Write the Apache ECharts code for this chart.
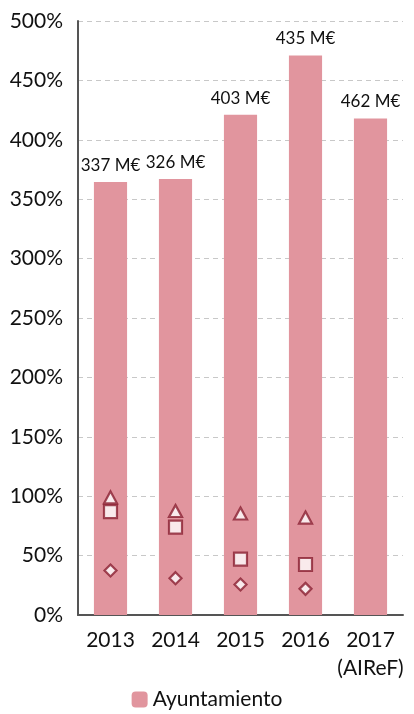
<!DOCTYPE html>
<html><head><meta charset="utf-8">
<script src="https://cdn.jsdelivr.net/npm/echarts@6/dist/echarts.min.js"></script>
<style>html,body{margin:0;padding:0;background:#fff}#c{width:414px;height:714px}</style>
</head><body><div id="c"></div>
<script>
const categories = ['2013', '2014', '2015', '2016', '2017\n(AIReF)'];
const ayuntamiento = [364.5, 367, 421, 471, 418];
const barLabels = ['337 M€', '326 M€', '403 M€', '435 M€', '462 M€'];
const triangles = [99, 87.5, 85.4, 82, null];
const squares = [87, 74, 47, 42.5, null];
const diamonds = [37.5, 31, 25.7, 22, null];
const yTicks = [0, 500, 50];

const font = 'Lato, "Open Sans", sans-serif';
const markerStyle = { color: '#fff', borderColor: '#8a1f31', borderWidth: 2.2 };
const chart = echarts.init(document.getElementById('c'));
chart.setOption({
  animation: false,
  textStyle: { fontFamily: font },
  grid: { left: 78, right: 11, top: 21, bottom: 99 },
  legend: {
    data: ['Ayuntamiento'], top: 689, left: 'center', padding: 0,
    itemWidth: 16, itemHeight: 16, itemGap: 8,
    textStyle: { fontSize: 21, color: '#111', fontFamily: font }
  },
  xAxis: {
    type: 'category', data: categories,
    axisLine: { lineStyle: { color: '#555', width: 2 } },
    axisTick: { show: false },
    axisLabel: { interval: 0, fontSize: 21, color: '#111', margin: 11, lineHeight: 28, fontFamily: font }
  },
  yAxis: {
    type: 'value', min: yTicks[0], max: yTicks[1], interval: yTicks[2],
    axisLine: { show: true, lineStyle: { color: '#555', width: 2 } },
    axisTick: { show: false },
    axisLabel: { formatter: '{value}%', fontSize: 21, color: '#111', margin: 15, fontFamily: font },
    splitLine: { lineStyle: { color: '#c8c8c8', type: [5, 4], width: 1 } }
  },
  series: [
    {
      name: 'Ayuntamiento', type: 'bar', data: ayuntamiento, barWidth: '51%',
      itemStyle: { color: '#e1959e' },
      label: {
        show: true, position: 'top', distance: 8, fontSize: 17, color: '#111', fontFamily: font,
        formatter: p => barLabels[p.dataIndex]
      },
      z: 1
    },
    { name: 'tri', type: 'scatter', data: triangles, symbol: 'triangle', symbolSize: [13, 12], itemStyle: markerStyle, z: 3 },
    { name: 'sq', type: 'scatter', data: squares, symbol: 'rect', symbolSize: 13, itemStyle: markerStyle, z: 3 },
    { name: 'dia', type: 'scatter', data: diamonds, symbol: 'diamond', symbolSize: 12, itemStyle: markerStyle, z: 3 }
  ]
});
</script></body></html>
